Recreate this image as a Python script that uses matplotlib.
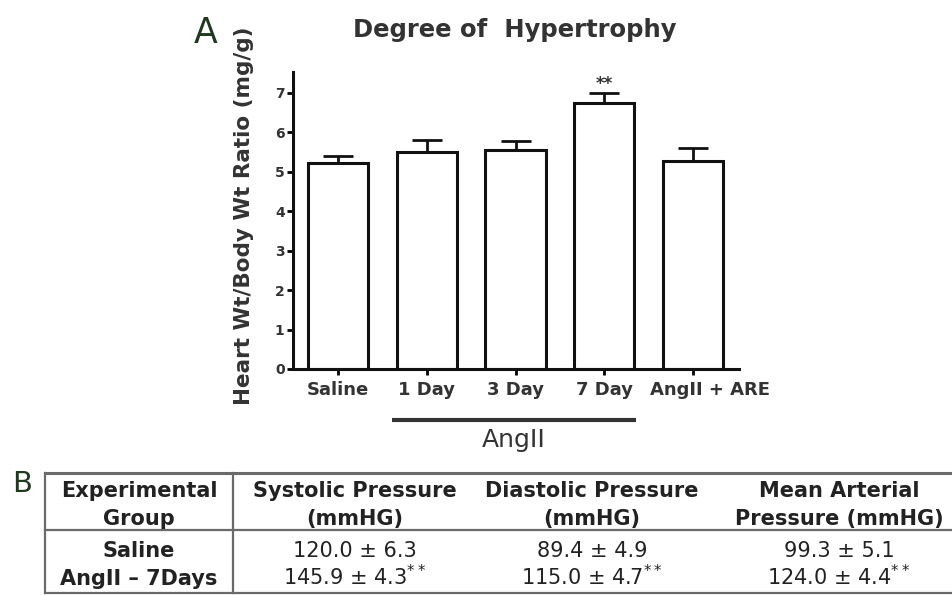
import matplotlib

matplotlib.use("Agg")
import matplotlib.pyplot as plt
import matplotlib.transforms as mtransforms
from matplotlib.lines import Line2D

plt.rcParams["font.family"] = "DejaVu Sans"

# ---- Panel A data ----
groups = ["Saline", "1 Day", "3 Day", "7 Day", "AngII + ARE"]
ratio = [5.21, 5.50, 5.54, 6.73, 5.27]
ratio_sem = [0.18, 0.30, 0.23, 0.27, 0.34]
y_ticks = [0, 1, 2, 3, 4, 5, 6, 7]
signif_group = 3  # "7 Day"

# ---- Panel B data ----
col_headers = [
    ["Experimental", "Group"],
    ["Systolic Pressure", "(mmHG)"],
    ["Diastolic Pressure", "(mmHG)"],
    ["Mean Arterial", "Pressure (mmHG)"],
]
row_labels = ["Saline", "AngII \u2013 7Days"]
systolic = [120.0, 145.9]
systolic_sd = [6.3, 4.3]
diastolic = [89.4, 115.0]
diastolic_sd = [4.9, 4.7]
mean_art = [99.3, 124.0]
mean_art_sd = [5.1, 4.4]
row_signif = [False, True]

TEXT = "#333333"
LETTER = "#1d3a1d"
RULE = "#6a6a6a"

W, H = 953, 595


def fx(px):
    return px / W


def fy(py):
    return 1 - py / H


fig = plt.figure(figsize=(W / 100, H / 100), dpi=100)
ax = fig.add_axes([fx(293), fy(369), (739 - 293) / W, (369 - 71.7) / H])

x = list(range(len(groups)))
ax.bar(x, ratio, width=0.68, color="white", edgecolor="#111111", linewidth=2.2, zorder=2)
ax.errorbar(
    x, ratio, yerr=[[0] * len(x), ratio_sem], fmt="none",
    ecolor="#111111", elinewidth=2.0, capsize=10.5, capthick=2.0, zorder=3,
)

ax.set_xlim(-0.507, 4.518)
ax.set_ylim(0, 7.53)
ax.set_yticks(y_ticks)
ax.set_yticklabels([str(t) for t in y_ticks], fontsize=10, fontweight="bold", color=TEXT)
ax.set_xticks(x)
ax.set_xticklabels(groups, fontsize=13, fontweight="bold", color=TEXT)
ax.tick_params(axis="y", length=4.5, width=2, pad=1.5)
ax.tick_params(axis="x", length=4.5, width=2, pad=4)

# last label sits a bit right of its tick in the original
shift = mtransforms.ScaledTranslation(17 / 100, 0, fig.dpi_scale_trans)
lab = ax.get_xticklabels()[-1]
lab.set_transform(lab.get_transform() + shift)

for side in ["top", "right"]:
    ax.spines[side].set_visible(False)
for side in ["left", "bottom"]:
    ax.spines[side].set_linewidth(2.2)
    ax.spines[side].set_color("#111111")

ax.text(signif_group, 7.08, "**", ha="center", va="baseline",
        fontsize=12, fontweight="bold", color=TEXT)

# AngII bracket under the x labels
trans = mtransforms.blended_transform_factory(ax.transData, ax.transAxes)
ax.plot([0.605, 3.358], [-0.171, -0.171], transform=trans, color=TEXT,
        linewidth=3, clip_on=False, solid_capstyle="butt")
ax.text(1.98, -0.263, "AngII", transform=trans, ha="center", va="baseline",
        fontsize=18, color=TEXT)

fig.text(fx(515), fy(37), "Degree of  Hypertrophy", ha="center", va="baseline",
         fontsize=17.5, fontweight="bold", color=TEXT)
fig.text(fx(244), fy(216), "Heart Wt/Body Wt Ratio (mg/g)", rotation=90,
         ha="center", va="center", fontsize=15.5, fontweight="bold", color=TEXT)
fig.text(fx(194), fy(43), "A", ha="left", va="baseline", fontsize=25, color=LETTER)

# ---- Panel B: table ----
fig.text(fx(12), fy(492), "B", ha="left", va="baseline", fontsize=21, color=LETTER)

col_centers = [139, 355, 592, 839]
header_base = [497, 525]
row_base = [557, 585]

fig.add_artist(Line2D([fx(45), fx(953)], [fy(473), fy(473)], color=RULE, linewidth=2.2))
fig.add_artist(Line2D([fx(45), fx(953)], [fy(530), fy(530)], color=RULE, linewidth=1.6))
fig.add_artist(Line2D([fx(45), fx(953)], [fy(593), fy(593)], color=RULE, linewidth=1.6))
fig.add_artist(Line2D([fx(45), fx(45)], [fy(473), fy(593)], color=RULE, linewidth=1.6))
fig.add_artist(Line2D([fx(233), fx(233)], [fy(473), fy(593)], color=RULE, linewidth=1.6))

for cx, lines in zip(col_centers, col_headers):
    for yb, line in zip(header_base, lines):
        fig.text(fx(cx), fy(yb), line, ha="center", va="baseline",
                 fontsize=15, fontweight="bold", color="#222222")

for i, name in enumerate(row_labels):
    yb = row_base[i]
    fig.text(fx(col_centers[0]), fy(yb), name, ha="center", va="baseline",
             fontsize=15, fontweight="bold", color="#222222")
    star = r"$^{**}$" if row_signif[i] else ""
    cells = [
        f"{systolic[i]:.1f} \u00b1 {systolic_sd[i]:.1f}",
        f"{diastolic[i]:.1f} \u00b1 {diastolic_sd[i]:.1f}",
        f"{mean_art[i]:.1f} \u00b1 {mean_art_sd[i]:.1f}",
    ]
    for cx, cell in zip(col_centers[1:], cells):
        fig.text(fx(cx), fy(yb), cell + star, ha="center", va="baseline",
                 fontsize=15, color="#222222")

fig.savefig("out.png", dpi=100)
